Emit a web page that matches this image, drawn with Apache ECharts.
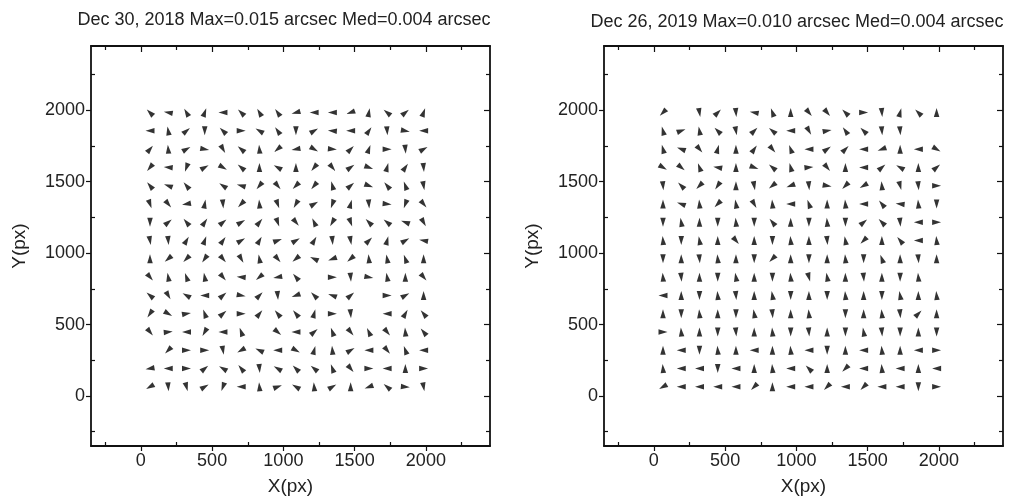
<!DOCTYPE html>
<html>
<head>
<meta charset="utf-8">
<script src="https://cdn.jsdelivr.net/npm/echarts@6/dist/echarts.min.js"></script>
<style>
html, body { margin: 0; padding: 0; background: #fff; }
#chart { width: 1019px; height: 501px; }
</style>
</head>
<body>
<div id="chart"></div>
<script>
// grid centres of the 16x16 sample points (px)
var gridPos = [64, 192, 320, 448, 576, 704, 832, 960, 1088, 1216, 1344, 1472, 1600, 1728, 1856, 1984];
var majorTicks = [0, 500, 1000, 1500, 2000];
var minorTicks = [-250, 250, 750, 1250, 1750, 2250];

var leftTitle = 'Dec 30, 2018 Max=0.015 arcsec Med=0.004 arcsec';
var rightTitle = 'Dec 26, 2019 Max=0.010 arcsec Med=0.004 arcsec';

// arrow direction in degrees (0 = right, 90 = up), rows from top (y=1984) to bottom (y=64)
var leftDir = [
    [135, 170, 120, 70, 180, 135, 120, 125, 195, 180, 180, 200, 80, 140, 40, 70],
    [180, 100, 40, 270, 135, 0, 150, 125, 270, 30, 175, 180, 55, 275, 350, 180],
    [50, 95, 30, 350, 300, 140, 95, 220, 190, 330, 355, 45, 70, 0, 275, 30],
    [230, 175, 250, 30, 330, 140, 90, 150, 90, 230, 310, 35, 340, 75, 55, 275],
    [130, 160, 130, null, 145, 165, 230, 310, 225, 230, 105, 40, 340, 130, 110, 280],
    [290, 310, 190, 80, 275, 225, 95, 290, 240, 30, 250, 75, 275, 355, 250, 310],
    [270, 40, 130, 55, 40, 30, 50, 290, 310, 115, 240, 290, 135, 140, 160, 300],
    [280, 275, 60, 70, 55, 30, 60, 20, 30, 60, 275, 280, 45, 75, 30, 170],
    [90, 220, 225, 235, 310, 300, 100, 310, 220, 155, 200, 220, 95, 100, 110, 90],
    [310, 100, 110, 100, 310, 175, 220, 190, 130, null, 0, 275, 350, 100, 90, 310],
    [140, 300, 150, 180, 40, 350, 45, 275, 200, 135, 160, 40, null, 0, 30, 90],
    [235, 330, 10, 110, 40, 0, 50, 130, 130, 75, 0, 275, null, 180, 60, 130],
    [310, 5, 180, 240, 180, 110, null, 320, 180, 40, 110, 310, 115, 310, 95, 130],
    [null, 225, 0, 0, 280, 210, 155, 180, 330, 75, 95, 30, 180, 310, 110, 180],
    [190, 180, 0, 40, 150, 130, 275, 150, 135, 140, 110, 310, 0, 180, 90, 0],
    [210, 275, 285, 30, 250, 180, 95, 20, 150, 95, 30, 90, 200, 140, 355, 280]
];

var rightDir = [
    [225, null, 280, 45, 275, 170, 110, 90, 310, 310, 135, 0, 275, 75, 135, 90],
    [105, 20, 100, 135, 280, 45, 140, 180, 300, 10, 125, 135, 275, 275, null, null],
    [105, 160, 310, 75, 90, 55, 310, 110, 180, 35, 45, 180, 200, 90, 180, 330],
    [330, 320, 110, 170, 90, 340, 140, 105, 5, 310, 90, 180, 40, 150, 90, 40],
    [275, 135, 225, 235, 90, 280, 220, 200, 275, 350, 225, 210, 95, 285, 275, 0],
    [90, 160, 95, 225, 100, 300, 95, 180, 110, 90, 95, 180, 130, 175, 95, 270],
    [270, 100, 90, 270, 95, 270, 130, 90, 270, 95, 270, 40, 135, 275, 180, 0],
    [95, 270, 100, 90, 310, 90, 270, 95, 90, 275, 100, 225, 90, 130, 180, 95],
    [270, 90, 275, 95, 90, 270, 225, 90, 270, 90, 95, 270, 110, 90, 275, 90],
    [95, 275, 90, 270, 100, 90, 270, 95, 285, 100, 90, 275, 90, 270, 95, null],
    [180, 90, 270, 95, 275, 90, 100, 270, 90, 270, 95, 90, 270, 100, 90, 95],
    [90, 270, 95, 90, 270, 100, 275, 90, 95, null, 270, 90, 95, 275, 45, 90],
    [0, 95, 90, 270, 275, 90, 95, 270, 275, 90, 270, 100, 275, 270, 90, 270],
    [90, 180, 270, 95, 90, 180, 90, 95, 180, 270, 90, 180, 95, 90, 180, 0],
    [95, 180, 180, 270, 180, 90, 95, 180, 135, 90, 225, 180, 95, 180, 90, 180],
    [210, 180, 180, 180, 180, 225, 90, 180, 180, 225, 180, 225, 180, 180, 270, 0]
];

var FONT = '"Liberation Sans", Arial, Helvetica, sans-serif';
var ARROW = 'path://M0,0L10,5L0,10Z';

function buildPoints(dirs) {
    var pts = [];
    for (var r = 0; r < dirs.length; r++) {
        for (var c = 0; c < dirs[r].length; c++) {
            if (dirs[r][c] == null) continue;
            pts.push({ value: [gridPos[c], gridPos[15 - r]], symbolRotate: dirs[r][c] });
        }
    }
    return pts;
}

// 4 axes per side of a grid: main (line + labels + major ticks), minor ticks, mirror major, mirror minor
function makeAxes(gi, isX) {
    var pos = isX ? ['bottom', 'top'] : ['left', 'right'];
    var tickStyle = { color: '#111', width: 1.2 };
    var base = {
        type: 'value', gridIndex: gi, min: -350, max: 2450,
        splitLine: { show: false },
        axisLine: { show: true, onZero: false, lineStyle: { color: '#111', width: 1.8 } },
        axisLabel: { show: false }
    };
    var main = Object.assign({}, base, {
        position: pos[0],
        axisTick: { show: true, inside: false, length: 5, customValues: majorTicks, lineStyle: tickStyle },
        axisLabel: {
            show: true, customValues: majorTicks, color: '#222', fontSize: 18, fontFamily: FONT, margin: 6,
            formatter: function (v) { return String(v); }
        },
        name: isX ? 'X(px)' : 'Y(px)',
        nameLocation: 'middle',
        nameGap: isX ? 31 : 62,
        nameTextStyle: { fontSize: 19, fontFamily: FONT, color: '#222' }
    });
    var minor = Object.assign({}, base, {
        position: pos[0],
        axisLine: { show: false, onZero: false },
        axisTick: { show: true, inside: true, length: 4, customValues: minorTicks, lineStyle: tickStyle }
    });
    var mirror = Object.assign({}, base, {
        position: pos[1],
        axisTick: { show: true, inside: true, length: 6, customValues: majorTicks, lineStyle: tickStyle }
    });
    var mirrorMinor = Object.assign({}, base, {
        position: pos[1],
        axisLine: { show: false, onZero: false },
        axisTick: { show: true, inside: true, length: 4, customValues: minorTicks, lineStyle: tickStyle }
    });
    return [main, minor, mirror, mirrorMinor];
}

var chart = echarts.init(document.getElementById('chart'));

var option = {
    animation: false,
    backgroundColor: '#fff',
    grid: [
        { left: 91, top: 46, width: 399, height: 400 },
        { left: 604, top: 46, width: 399, height: 400 }
    ],
    xAxis: makeAxes(0, true).concat(makeAxes(1, true)),
    yAxis: makeAxes(0, false).concat(makeAxes(1, false)),
    graphic: [
        { type: 'text', x: 284, y: 11, style: { text: leftTitle, textAlign: 'center', fontSize: 18, fontFamily: FONT, fill: '#222' } },
        { type: 'text', x: 797, y: 13, style: { text: rightTitle, textAlign: 'center', fontSize: 18, fontFamily: FONT, fill: '#222' } }
    ],
    series: [
        {
            type: 'scatter', xAxisIndex: 0, yAxisIndex: 0,
            symbol: ARROW, symbolSize: [9, 5.5],
            itemStyle: { color: '#000' },
            data: buildPoints(leftDir)
        },
        {
            type: 'scatter', xAxisIndex: 4, yAxisIndex: 4,
            symbol: ARROW, symbolSize: [9, 5.5],
            itemStyle: { color: '#000' },
            data: buildPoints(rightDir)
        }
    ]
};

chart.setOption(option);
</script>
</body>
</html>
